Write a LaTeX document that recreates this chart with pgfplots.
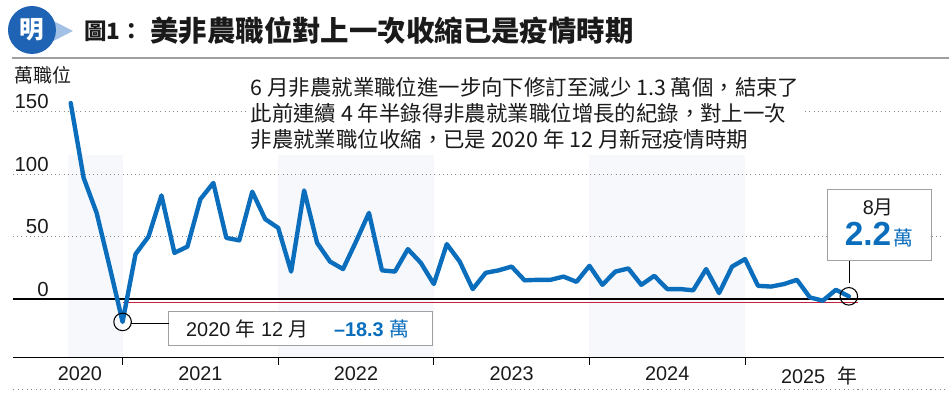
\documentclass[border=0pt]{standalone}
\usepackage{pgfplots}
\pgfplotsset{compat=1.18}
\usepackage{pgfplotstable}
\usepackage{fontspec}
\setmainfont{Liberation Sans}
\newfontfamily\cjk{Noto Sans CJK TC}
\definecolor{lineblue}{HTML}{0A6EBD}
\definecolor{band}{HTML}{F6F8FC}
\definecolor{zred}{HTML}{C8203C}
\definecolor{gridgray}{HTML}{8A8A8A}
\definecolor{boxgray}{HTML}{A0A0A0}
\definecolor{txt}{HTML}{1A1A1A}
\definecolor{logoblue}{HTML}{1F64B4}
\definecolor{logolight}{HTML}{A3C0E6}

% month index: Dec 2020 = 0 ; values in 10k jobs
\pgfplotstableread{
i v
-4 157
-3 97
-2 69
-1 26
0 -18.3
1 36
2 50
3 83
4 37
5 42
6 80
7 93
8 49
9 47
10 86
11 64
12 57
13 22
14 87
15 45
16 30
17 24
18 46
19 69
20 23
21 22
22 40
23 29
24 12
25 44
26 30
27 8
28 21
29 23
30 26
31 15
32 15.4
33 15.4
34 18
35 13.8
36 26.6
37 11.4
38 22
39 24.5
40 11.4
41 18.6
42 8
43 8
44 7
45 24
46 4.8
47 26
48 32
49 10.6
50 10
51 12
52 15.4
53 1.3
54 -1.3
55 7.4
56 2.2
}\nfp

\begin{document}
\begin{tikzpicture}[x=0.02cm,y=0.02cm]
\path (0,0) rectangle (950,399);
\begin{axis}[
  at={(0.26cm,0.82cm)}, anchor=south west,
  scale only axis, width=18.64cm, height=5.174cm,
  xmin=-8.45, xmax=63.35, ymin=-47, ymax=160,
  set layers, clip=false,
  separate axis lines,
  axis x line*=bottom, axis y line*=left,
  y axis line style={draw=none},
  x axis line style={black, line width=0.85pt},
  ytick={0,50,100,150},
  ymajorgrids,
  grid style={gridgray, dotted, line width=0.6pt},
  ytick style={draw=none},
  /pgf/number format/assume math mode=true,
  yticklabel style={anchor=base east, inner sep=0pt, xshift=0.72cm, yshift=0.06cm, font=\fontsize{11.6}{12}\selectfont, text=txt},
  xtick={-3.29,6,18,30,42,53.7},
  xticklabels={2020,2021,2022,2023,2024,{2025\hspace{0.6em}{\cjk 年}}},
  xtick style={draw=none},
  xticklabel style={anchor=north, inner sep=0pt, yshift=-0.18cm, font=\fontsize{11.3}{12}\selectfont, text=txt},
  extra x ticks={0,12,24,36,48},
  extra x tick labels={},
  extra x tick style={xtick style={draw=black, line width=0.6pt}, major tick length=0.14cm, tick align=outside, grid=none},
]
\addplot[draw=none, fill=band, on layer=axis background] coordinates {(-4.2,-47) (-4.2,115) (0,115) (0,-47)} -- cycle;
\addplot[draw=none, fill=band, on layer=axis background] coordinates {(12,-47) (12,115) (24,115) (24,-47)} -- cycle;
\addplot[draw=none, fill=band, on layer=axis background] coordinates {(36,-47) (36,115) (48,115) (48,-47)} -- cycle;
\addplot[zred, line width=0.8pt] coordinates {(0,-2.6) (56.7,-2.6)};
\addplot[black, line width=0.9pt] coordinates {(-8.45,0) (63.35,0)};
\addplot[lineblue, line width=2.5pt, line join=round, line cap=round] table[x=i,y=v]{\nfp};
\addplot[only marks, mark=o, mark size=5pt, black, line width=0.6pt] coordinates {(0,-18.3) (56,2.2)};
\end{axis}

% logo
\fill[logolight] (40,385) -- (73,368) -- (40,351) -- cycle;
\fill[logoblue] (32,369) circle (24);
\node[text=white, inner sep=0pt] at (32,369) {\cjk\bfseries\fontsize{14}{14}\selectfont 明};

% title
\node[anchor=west, inner sep=0pt, text=txt] at (84,368) {\cjk\bfseries\fontsize{12.8}{14}\selectfont 圖1：};
\node[anchor=west, inner sep=0pt, text=txt] at (150,368) {\cjk\bfseries\fontsize{16.2}{18}\selectfont 美非農職位對上一次收縮已是疫情時期};
\draw[gray!75, line width=0.8pt] (12,341) -- (950,341);

% unit label
\node[anchor=west, inner sep=0pt, text=txt] at (14,324) {\cjk\fontsize{10.8}{12}\selectfont 萬職位};

% annotation
\node[anchor=north west, fill=white, inner sep=2pt, align=left, text=txt, font=\cjk\fontsize{12.2}{14.7}\selectfont] at (247,325)
{6 月非農就業職位進一步向下修訂至減少 1.3 萬個，結束了\\此前連續 4 年半錄得非農就業職位增長的紀錄，對上一次\\非農就業職位收縮，已是 2020 年 12 月新冠疫情時期};

% lower-left callout
\draw[draw=boxgray, fill=white, line width=0.6pt] (169,87) rectangle (433,53);
\draw[black, line width=0.6pt] (131,75) -- (169,75);
\node[anchor=west, inner sep=0pt, text=txt] at (186,70) {\fontsize{11.3}{12}\selectfont 2020 {\cjk 年} 12 {\cjk 月}};
\node[anchor=west, inner sep=0pt, text=lineblue] at (334,70) {\fontsize{11.3}{12}\selectfont\bfseries –18.3 {\cjk\mdseries 萬}};

% upper-right callout
\draw[draw=boxgray, fill=white, line width=0.6pt] (828,209) rectangle (932,138);
\draw[black, line width=0.6pt] (850,138) -- (850,116);
\node[text=txt, inner sep=0pt] at (879,191) {\fontsize{11.3}{12}\selectfont 8{\cjk 月}};
\node[inner sep=0pt, text=lineblue, anchor=base] at (880,153) {\fontsize{19}{20}\selectfont\bfseries 2.2\hspace{0.08em}{\cjk\mdseries\fontsize{11.3}{12}\selectfont 萬}};

% bottom dotted rule
\draw[gridgray, dotted, line width=0.6pt] (13,9) -- (945,9);
\end{tikzpicture}
\end{document}
